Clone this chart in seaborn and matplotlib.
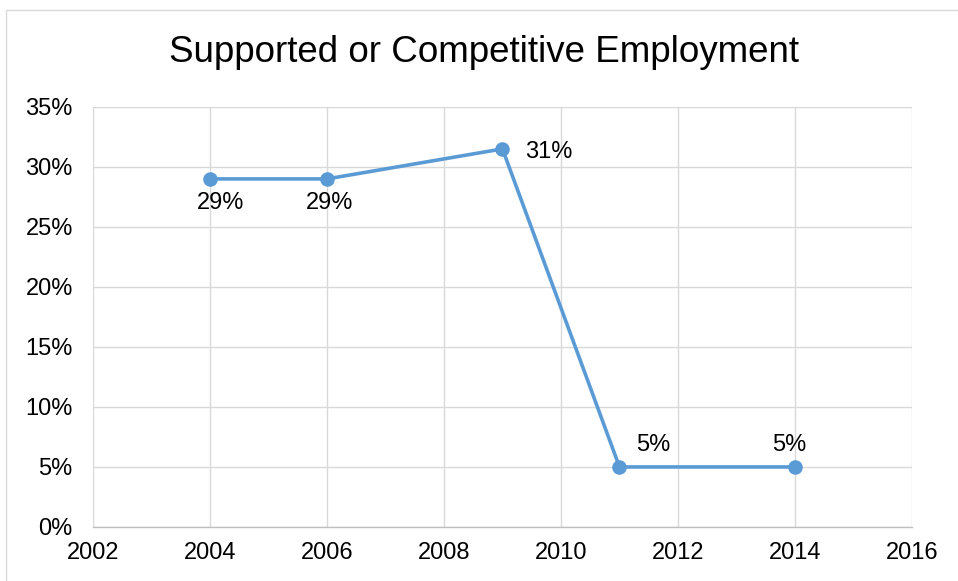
import matplotlib
matplotlib.use("Agg")
import matplotlib.pyplot as plt
import seaborn as sns
import pandas as pd
from matplotlib.ticker import FuncFormatter, MultipleLocator
from matplotlib.patches import Rectangle

years = [2004, 2006, 2009, 2011, 2014]
values = [29.0, 29.0, 31.5, 5.0, 5.0]
labels = ["29%", "29%", "31%", "5%", "5%"]
label_offsets = [(8, -17.5), (2, -17.5), (33, -2), (24.5, 15.5), (-4, 15.5)]

sns.set_theme(style="white")
plt.rcParams['font.family'] = ['Liberation Sans', 'DejaVu Sans']

df = pd.DataFrame({"year": years, "value": values})

fig = plt.figure(figsize=(9.58, 5.81), dpi=100)
ax = fig.add_axes([0.097, 0.093, 0.855, 0.723])

color = "#5B9BD5"
sns.lineplot(data=df, x="year", y="value", ax=ax, color=color, linewidth=2.6,
             marker="o", markersize=10.5, markeredgewidth=0, markerfacecolor=color)

ax.set_xlim(2002, 2016)
ax.set_ylim(0, 35)
ax.xaxis.set_major_locator(MultipleLocator(2))
ax.yaxis.set_major_locator(MultipleLocator(5))
ax.yaxis.set_major_formatter(FuncFormatter(lambda v, p: f"{int(round(v))}%"))
ax.grid(True, color="#D9D9D9", linewidth=1.0)
ax.set_axisbelow(True)
for s in ["top", "right", "left"]:
    ax.spines[s].set_visible(False)
ax.spines["bottom"].set_color("#BFBFBF")
ax.spines["bottom"].set_linewidth(1.0)
ax.tick_params(axis="both", length=0, labelsize=17, colors="black")
ax.tick_params(axis="x", pad=11)
ax.tick_params(axis="y", pad=14.5)
ax.set_xlabel("")
ax.set_ylabel("")

for x, y, t, (dx, dy) in zip(years, values, labels, label_offsets):
    ax.annotate(t, (x, y), xytext=(dx, dy), textcoords="offset points",
                ha="center", va="center", fontsize=17, color="black")

fig.text(0.505, 0.910, "Supported or Competitive Employment", ha="center",
         va="center", fontsize=26.5, color="black")

fig.patches.append(Rectangle((6 / 958, -0.01), 1.0, 1 - 10 / 581 + 0.01,
                             transform=fig.transFigure, fill=False,
                             edgecolor="#D9D9D9", linewidth=1.0))

fig.savefig("out.png", dpi=100)
